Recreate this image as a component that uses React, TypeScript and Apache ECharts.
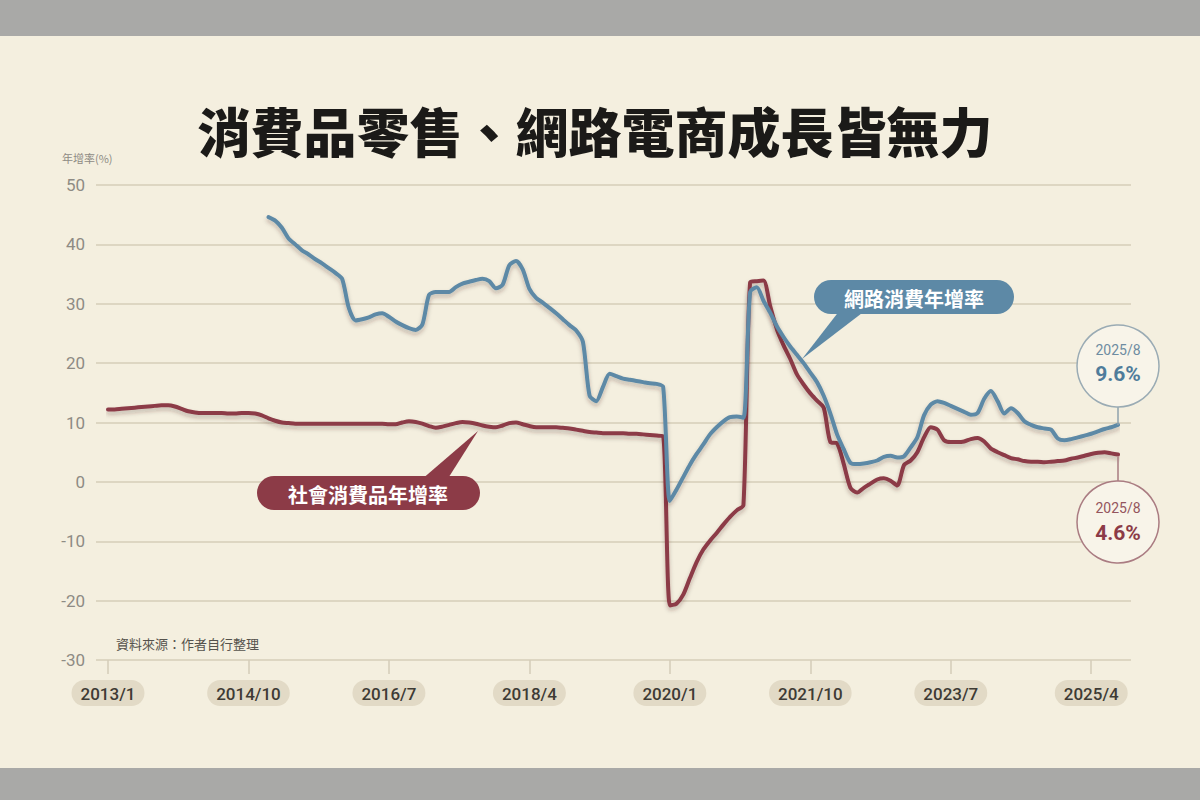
import React, { useEffect, useRef } from "react";
import * as echarts from "echarts";

// Monthly categories 2013/1 – 2025/8
const months: string[] = [];
for (let y = 2013; y <= 2025; y++) {
  for (let m = 1; m <= 12; m++) {
    if (y === 2025 && m > 8) break;
    months.push(`${y}/${m}`);
  }
}

const yTicks = [-30, -20, -10, 0, 10, 20, 30, 40, 50];

// 社會消費品年增率 (%), monthly from 2013/1
const retail2013to2016 = [
  12.2, 12.2, 12.3, 12.4, 12.5, 12.6, 12.7, 12.8, 12.9, 12.9, 12.7, 12.3,
  11.9, 11.7, 11.6, 11.6, 11.6, 11.6, 11.5, 11.5, 11.6, 11.6, 11.5, 11.2,
  10.7, 10.3, 10.0, 9.9, 9.8, 9.8, 9.8, 9.8, 9.8, 9.8, 9.8, 9.8,
  9.8, 9.8, 9.8, 9.8, 9.8, 9.8, 9.7, 9.7, 10.0, 10.2, 10.1, 9.8,
];
const retail2017to2020 = [
  9.4, 9.1, 9.3, 9.6, 9.9, 10.1, 10.0, 9.8, 9.5, 9.3, 9.2, 9.5,
  9.9, 10.0, 9.7, 9.4, 9.2, 9.2, 9.2, 9.2, 9.1, 9.0, 8.8, 8.6,
  8.4, 8.3, 8.2, 8.2, 8.2, 8.2, 8.1, 8.1, 8.0, 7.9, 7.8, 7.7,
  -20.8, -20.5, -19.0, -16.2, -13.5, -11.4, -9.9, -8.6, -7.2, -5.9, -4.8, -3.9,
];
const retail2021to2025 = [
  33.6, 33.8, 33.9, 29.6, 25.7, 23.0, 20.7, 18.1, 16.4, 14.9, 13.7, 12.5,
  6.7, 6.5, 3.0, -1.0, -1.8, -1.0, -0.3, 0.4, 0.6, 0.2, -0.6, 2.8,
  3.6, 5.0, 7.5, 9.2, 8.8, 7.0, 6.7, 6.7, 6.8, 7.2, 7.4, 6.8,
  5.6, 5.0, 4.5, 4.0, 3.8, 3.5, 3.4, 3.4, 3.3, 3.4, 3.5, 3.6,
  3.9, 4.1, 4.4, 4.7, 4.9, 5.0, 4.8, 4.6,
];
const retailGrowth = [...retail2013to2016, ...retail2017to2020, ...retail2021to2025];

// 網路消費年增率 (%), starts 2015/1
const onlineBefore2015: (number | null)[] = new Array(24).fill(null);
const online2015to2018 = [
  44.6, 44.0, 42.8, 41.0, 40.0, 39.0, 38.3, 37.5, 36.8, 36.0, 35.2, 34.2,
  29.3, 27.2, 27.4, 27.7, 28.2, 28.4, 27.8, 27.0, 26.4, 25.9, 25.6, 26.5,
  31.5, 32.0, 32.0, 32.0, 32.8, 33.4, 33.7, 34.0, 34.2, 33.8, 32.6, 33.2,
  36.5, 37.2, 35.8, 32.5, 31.0, 30.2, 29.3, 28.4, 27.4, 26.4, 25.5, 23.6,
];
const online2019to2022 = [
  14.5, 13.6, 16.0, 18.2, 17.8, 17.4, 17.2, 17.0, 16.8, 16.6, 16.5, 16.0,
  -3.2, -1.3, 0.8, 2.9, 4.7, 6.3, 8.0, 9.2, 10.2, 10.9, 11.0, 10.8,
  32.0, 32.8, 30.5, 28.5, 26.2, 24.4, 22.8, 21.4, 20.0, 18.4, 16.8, 14.5,
  11.5, 8.0, 5.5, 3.2, 3.0, 3.1, 3.3, 3.6, 4.2, 4.4, 4.1, 4.3,
];
const online2023to2025 = [
  5.8, 7.5, 11.2, 13.0, 13.6, 13.3, 12.8, 12.3, 11.8, 11.3, 11.6, 14.0,
  15.3, 13.6, 11.5, 12.4, 11.6, 10.2, 9.6, 9.2, 9.0, 8.8, 7.3, 7.0,
  7.2, 7.5, 7.8, 8.1, 8.5, 8.9, 9.2, 9.6,
];
const onlineGrowth = [...onlineBefore2015, ...online2015to2018, ...online2019to2022, ...online2023to2025];

const latestLabel = "2025/8";
const latestOnline = "9.6%";
const latestRetail = "4.6%";

const BG = "#f4efdf";
const RED = "#8c3b47";
const BLUE = "#5d89a6";
const CJK = "'Noto Sans CJK TC', 'Noto Sans CJK SC', sans-serif";

export default function App() {
  const ref = useRef<HTMLDivElement>(null);

  useEffect(() => {
    if (!ref.current) return;
    const chart = echarts.init(ref.current, null, { renderer: "svg" });

    const lineShadow = {
      shadowColor: "rgba(60,40,20,0.28)",
      shadowBlur: 4,
      shadowOffsetY: 3,
    };

    const option: any = {
      animation: false,
      backgroundColor: BG,
      grid: [
        { left: 96, top: 185, width: 1035, height: 475 },
        { left: 108, top: 185, width: 1010, height: 475 },
      ],
      xAxis: [
        { gridIndex: 0, type: "value", min: 0, max: 1, show: false },
        {
          gridIndex: 1,
          type: "category",
          data: months,
          boundaryGap: false,
          position: "bottom",
          axisLine: { show: false, onZero: false },
          axisTick: {
            show: true,
            interval: 20,
            length: 14,
            lineStyle: { color: "#d4ccb8", width: 1.5 },
          },
          axisLabel: {
            interval: 20,
            margin: 20,
            color: "#3e3b35",
            fontSize: 17,
            fontFamily: "Roboto, 'Liberation Sans', sans-serif",
            fontWeight: 500,
            backgroundColor: "#e2dac6",
            borderRadius: 13,
            padding: [5, 9, 4, 9],
          },
          splitLine: { show: false },
        },
      ],
      yAxis: [
        {
          gridIndex: 0,
          type: "value",
          min: yTicks[0],
          max: yTicks[yTicks.length - 1],
          interval: 10,
          axisLine: { show: false },
          axisTick: { show: false },
          axisLabel: {
            margin: 11,
            color: "#8e8b84",
            fontSize: 17,
            fontFamily: "Roboto, sans-serif",
          },
          splitLine: { show: true, lineStyle: { color: "#ddd6c2", width: 2 } },
        },
        {
          gridIndex: 1,
          type: "value",
          min: yTicks[0],
          max: yTicks[yTicks.length - 1],
          interval: 10,
          show: false,
          splitLine: { show: false },
        },
      ],
      series: [
        {
          name: "社會消費品年增率",
          type: "line",
          xAxisIndex: 1,
          yAxisIndex: 1,
          data: retailGrowth,
          showSymbol: false,
          smooth: 0.25,
          silent: true,
          lineStyle: { color: RED, width: 4, cap: "round", join: "round", ...lineShadow },
          z: 3,
        },
        {
          name: "網路消費年增率",
          type: "line",
          xAxisIndex: 1,
          yAxisIndex: 1,
          data: onlineGrowth,
          showSymbol: false,
          smooth: 0.25,
          silent: true,
          connectNulls: false,
          lineStyle: { color: BLUE, width: 4, cap: "round", join: "round", ...lineShadow },
          z: 4,
        },
      ],
      graphic: [
        { type: "rect", silent: true, z: 0, shape: { x: 0, y: 0, width: 1200, height: 36 }, style: { fill: "#a9a9a7" } },
        { type: "rect", silent: true, z: 0, shape: { x: 0, y: 768, width: 1200, height: 32 }, style: { fill: "#a9a9a7" } },
        {
          type: "text",
          x: 595,
          y: 130,
          style: {
            text: "消費品零售、網路電商成長皆無力",
            fill: "#1b1a18",
            font: `900 53px ${CJK}`,
            textAlign: "center",
            textVerticalAlign: "middle",
          },
        },
        {
          type: "text",
          x: 62,
          y: 158,
          style: { text: "年增率(%)", fill: "#8e8b84", font: `11px ${CJK}`, textAlign: "left", textVerticalAlign: "middle" },
        },
        {
          type: "text",
          x: 116,
          y: 643,
          style: { text: "資料來源：作者自行整理", fill: "#55524c", font: `13px ${CJK}`, textAlign: "left", textVerticalAlign: "middle" },
        },
        // red callout
        { type: "polygon", z: 10, shape: { points: [[421, 480], [447, 480], [478, 431]] }, style: { fill: RED } },
        { type: "rect", z: 10, shape: { x: 257, y: 476, width: 223, height: 34, r: 17 }, style: { fill: RED } },
        {
          type: "text",
          z: 11,
          x: 368,
          y: 494,
          style: { text: "社會消費品年增率", fill: "#ffffff", font: `bold 20px ${CJK}`, textAlign: "center", textVerticalAlign: "middle" },
        },
        // blue callout
        { type: "polygon", z: 10, shape: { points: [[840, 310], [866, 310], [802, 359]] }, style: { fill: BLUE } },
        { type: "rect", z: 10, shape: { x: 814, y: 280, width: 200, height: 34, r: 17 }, style: { fill: BLUE } },
        {
          type: "text",
          z: 11,
          x: 914,
          y: 298,
          style: { text: "網路消費年增率", fill: "#ffffff", font: `bold 20px ${CJK}`, textAlign: "center", textVerticalAlign: "middle" },
        },
        // latest value bubbles
        { type: "line", z: 10, shape: { x1: 1118, y1: 407, x2: 1118, y2: 425 }, style: { stroke: "#8fa2ad", lineWidth: 1.5 } },
        { type: "circle", z: 10, shape: { cx: 1118, cy: 366, r: 41 }, style: { fill: "#f8f4e9", stroke: "#9aabb4", lineWidth: 1.5 } },
        {
          type: "text", z: 11, x: 1118, y: 350,
          style: { text: latestLabel, fill: "#6e8ca1", font: "14px Roboto, sans-serif", textAlign: "center", textVerticalAlign: "middle" },
        },
        {
          type: "text", z: 11, x: 1118, y: 374,
          style: { text: latestOnline, fill: "#4f7c9b", font: "bold 21px Roboto, sans-serif", textAlign: "center", textVerticalAlign: "middle" },
        },
        { type: "line", z: 10, shape: { x1: 1118, y1: 457, x2: 1118, y2: 481 }, style: { stroke: "#a87b80", lineWidth: 1.5 } },
        { type: "circle", z: 10, shape: { cx: 1118, cy: 522, r: 41 }, style: { fill: "#f8f4e9", stroke: "#aa7c82", lineWidth: 1.5 } },
        {
          type: "text", z: 11, x: 1118, y: 508,
          style: { text: latestLabel, fill: "#94555d", font: "14px Roboto, sans-serif", textAlign: "center", textVerticalAlign: "middle" },
        },
        {
          type: "text", z: 11, x: 1118, y: 533,
          style: { text: latestRetail, fill: RED, font: "bold 21px Roboto, sans-serif", textAlign: "center", textVerticalAlign: "middle" },
        },
      ],
    };

    chart.setOption(option);
    return () => chart.dispose();
  }, []);

  return (
    <div
      ref={ref}
      style={{ position: "fixed", left: 0, top: 0, width: 1200, height: 800 }}
    />
  );
}
